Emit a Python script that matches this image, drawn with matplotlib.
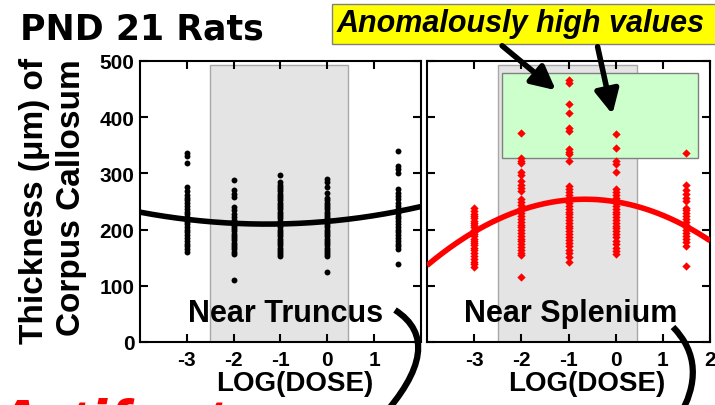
import numpy as np
import matplotlib
matplotlib.use("Agg")
import matplotlib.pyplot as plt
from matplotlib.patches import Rectangle, FancyArrowPatch, PathPatch
from matplotlib.path import Path

# ---------------- data ----------------
dose_levels = [-3, -2, -1, 0, 1.5]

truncus = {
    -3: [337, 331, 318, 275, 268, 262, 257, 252, 247, 242, 237, 232, 227, 222, 218,
         214, 210, 205, 200, 195, 190, 185, 180, 175, 170, 165, 160],
    -2: [288, 270, 264, 258, 240, 234, 228, 222, 217, 213, 209, 205, 201, 197, 193,
         189, 185, 181, 177, 173, 169, 165, 160, 156, 110],
    -1: [298, 285, 280, 276, 272, 268, 264, 260, 256, 252, 248, 244, 240, 236, 232,
         228, 224, 220, 216, 212, 208, 204, 200, 196, 192, 188, 184, 180, 176, 172,
         168, 164, 160, 156, 153],
    0: [290, 284, 276, 266, 257, 252, 248, 244, 240, 236, 232, 228, 224, 220, 216,
        212, 208, 204, 200, 196, 192, 188, 184, 180, 176, 172, 168, 164, 160, 156,
        153, 125],
    1.5: [340, 313, 307, 301, 272, 266, 260, 254, 248, 242, 236, 230, 225, 220, 215,
          210, 205, 200, 195, 190, 185, 180, 175, 170, 165, 139],
}

splenium = {
    -3: [238, 233, 228, 224, 220, 216, 212, 208, 204, 200, 196, 192, 188, 184, 180,
         176, 172, 168, 163, 158, 153, 148, 143, 138, 133],
    -2: [371, 327, 322, 318, 302, 297, 286, 280, 274, 268, 254, 249, 244, 239, 234,
         229, 224, 219, 214, 209, 204, 199, 194, 189, 184, 179, 174, 169, 164, 159,
         154, 115],
    -1: [467, 461, 423, 408, 381, 375, 343, 338, 334, 322, 277, 272, 267, 262, 257,
         252, 247, 242, 237, 232, 227, 222, 217, 212, 207, 202, 197, 192, 187, 182,
         176, 170, 164, 158, 151, 142],
    0: [370, 346, 322, 316, 303, 272, 267, 262, 257, 252, 247, 242, 237, 232, 227,
        222, 217, 212, 207, 202, 197, 192, 186, 180, 174, 168, 162, 156],
    1.5: [337, 280, 270, 264, 257, 251, 239, 234, 229, 224, 219, 214, 209, 204, 199,
          194, 189, 184, 178, 171, 136],
}

# quadratic fit coefficients (highest power first)
truncus_fit = [2.89, 7.45, 214.6]
splenium_fit = [-10.5, -13.65, 249.6]

yticks = [0, 100, 200, 300, 400, 500]
xticks_left = [-3, -2, -1, 0, 1]
xticks_right = [-3, -2, -1, 0, 1, 2]

title = "PND 21 Rats"
ylabel1 = "Thickness (\u03bcm) of"
ylabel2 = "Corpus Callosum"
xlabel = "LOG(DOSE)"
panel_left = "Near Truncus"
panel_right = "Near Splenium"
callout = "Anomalously high values"
bottom_word = "Artifact"

# ---------------- figure ----------------
W, H = 715, 406
fig = plt.figure(figsize=(W / 100, H / 100), dpi=100)
plt.rcParams['font.family'] = ['Liberation Sans', 'DejaVu Sans']
plt.rcParams['font.weight'] = 'bold'


def fx(px):
    return px / W


def fy(py):
    return 1 - py / H


ax1 = fig.add_axes([fx(140), fy(343), 281 / W, 281 / H])
ax2 = fig.add_axes([fx(427), fy(343), 283 / W, 281 / H])

xx = np.linspace(-4, 2, 300)

for ax, data, fit, color, marker, msize, xt in [
    (ax1, truncus, truncus_fit, 'black', 'o', 18, xticks_left),
    (ax2, splenium, splenium_fit, '#ff0000', 'D', 18, xticks_right),
]:
    ax.set_xlim(-4, 2)
    ax.set_ylim(0, 500)
    ax.add_patch(Rectangle((-2.5, 0), 2.95, 492, facecolor='#e4e4e4',
                           edgecolor='#a8a8a8', lw=1, zorder=0))
    for x in dose_levels:
        vals = data[x]
        ax.scatter([x] * len(vals), vals, s=msize, marker=marker, color=color,
                   linewidths=0, zorder=3)
    ax.plot(xx, np.polyval(fit, xx), color=color, lw=4, zorder=4,
            solid_capstyle='butt')
    ax.set_xticks(xt)
    ax.set_xticklabels([str(t) for t in xt])
    ax.set_yticks(yticks)
    ax.tick_params(direction='in', length=6, width=1.5, top=True, right=True,
                   labelsize=15, pad=6)
    ax.tick_params(axis='y', pad=4)
    for sp in ax.spines.values():
        sp.set_linewidth(1.5)
    for lab in ax.get_xticklabels() + ax.get_yticklabels():
        lab.set_fontweight('bold')

ax2.tick_params(axis='y', labelleft=False)
ax2.add_patch(Rectangle((-2.41, 327), 4.16, 151, facecolor='#ccffcc',
                        edgecolor='#808080', lw=1, zorder=1))

# panel texts
fig.text(fx(286), fy(322), panel_left, ha='center', va='baseline',
         fontsize=22, fontweight='bold')
fig.text(fx(571), fy(322), panel_right, ha='center', va='baseline',
         fontsize=22, fontweight='bold')

# x labels
fig.text(fx(295), fy(384), xlabel, ha='center', va='center', fontsize=20,
         fontweight='bold')
fig.text(fx(587), fy(384), xlabel, ha='center', va='center', fontsize=20,
         fontweight='bold')

# y labels
fig.text(fx(35), fy(201), ylabel1, rotation=90, ha='center', va='center',
         fontsize=24, fontweight='bold')
fig.text(fx(72), fy(198), ylabel2, rotation=90, ha='center', va='center',
         fontsize=24, fontweight='bold')

# title
fig.text(fx(20), fy(39), title, ha='left', va='baseline', fontsize=25,
         fontweight='bold', family='DejaVu Sans')

# yellow callout
fig.patches.append(Rectangle((fx(332), fy(45)), fx(400), 40 / H,
                             transform=fig.transFigure, facecolor='#ffff00',
                             edgecolor='#808080', lw=1, zorder=5))
fig.text(fx(337), fy(32), callout, ha='left', va='baseline', fontsize=22,
         fontweight='bold', style='italic', zorder=6)

for (x0, y0, x1, y1) in [(500, 45, 558, 93), (597, 45, 613, 118)]:
    arr = FancyArrowPatch((fx(x0), fy(y0)), (fx(x1), fy(y1)),
                          transform=fig.transFigure, arrowstyle='-|>',
                          mutation_scale=36, lw=4, color='black', zorder=7)
    fig.patches.append(arr)

# black brackets
for pts in [[(395, 311), (448, 345), (380, 420)],
            [(673, 328), (710, 366), (678, 420)]]:
    verts = [(fx(a), fy(b)) for a, b in pts]
    path = Path(verts, [Path.MOVETO, Path.CURVE3, Path.CURVE3])
    fig.patches.append(PathPatch(path, transform=fig.transFigure,
                                 facecolor='none', edgecolor='black', lw=4.5,
                                 capstyle='butt', zorder=7))

# red word cut off at the bottom (as in the reference)
fig.text(fx(-8), fy(446), bottom_word, ha='left', va='baseline', fontsize=48,
         fontweight='bold', style='italic', color='#ff0000')

fig.savefig('out.png', dpi=100)
